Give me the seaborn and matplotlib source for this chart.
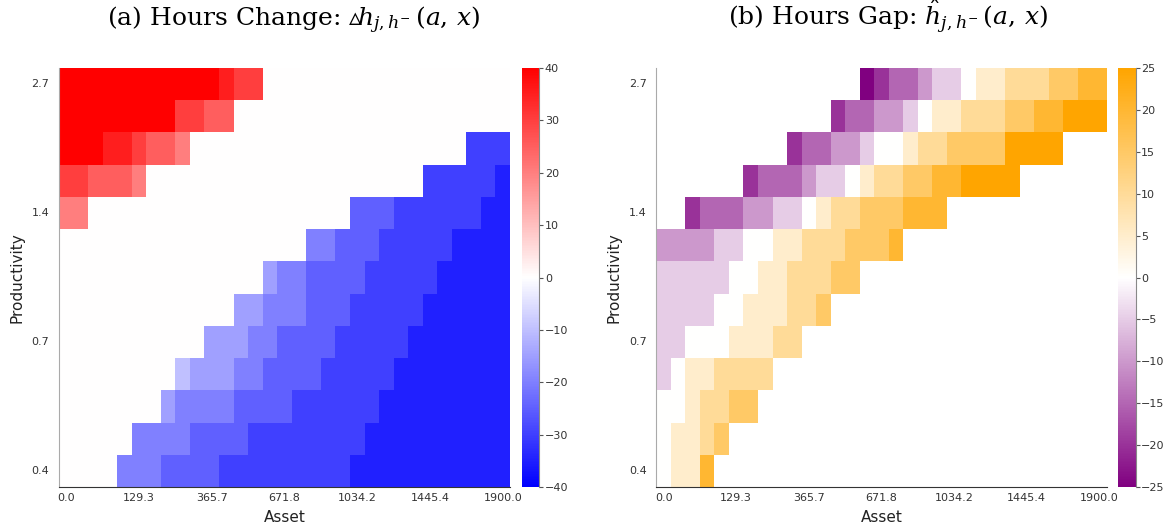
import numpy as np
import pandas as pd
import matplotlib
import matplotlib.pyplot as plt
import seaborn as sns
from matplotlib.colors import LinearSegmentedColormap

n = np.nan

# asset grid labels (every 5th grid point) and productivity labels (every 4th)
asset_ticks = ["0.0", "129.3", "365.7", "671.8", "1034.2", "1445.4", "1900.0"]
prod_ticks = ["2.7", "1.4", "0.7", "0.4"]  # top to bottom

# (a) hours change, rows from top (high productivity) to bottom, 31 asset points
hours_change = [
    [40, 40, 40, 40, 40, 40, 40, 40, 40, 40,  40, 35, 30, 30, 0, 0, 0, 0, 0, 0,  0, 0, 0, 0, 0, 0, 0, 0, 0, 0,  0],
    [40, 40, 40, 40, 40, 40, 40, 40, 30, 30,  25, 25, 0, 0, 0, 0, 0, 0, 0, 0,  0, 0, 0, 0, 0, 0, 0, 0, 0, 0,  0],
    [40, 40, 40, 35, 35, 30, 25, 25, 20, 0,  0, 0, 0, 0, 0, 0, 0, 0, 0, 0,  0, 0, 0, 0, 0, 0, 0, 0, -30, -30,  -30],
    [30, 30, 25, 25, 25, 20, 0, 0, 0, 0,  0, 0, 0, 0, 0, 0, 0, 0, 0, 0,  0, 0, 0, 0, 0, -30, -30, -30, -30, -30,  -35],
    [20, 20, 0, 0, 0, 0, 0, 0, 0, 0,  0, 0, 0, 0, 0, 0, 0, 0, 0, 0,  -25, -25, -25, -30, -30, -30, -30, -30, -30, -35,  -35],
    [0, 0, 0, 0, 0, 0, 0, 0, 0, 0,  0, 0, 0, 0, 0, 0, 0, -20, -20, -25,  -25, -25, -30, -30, -30, -30, -30, -35, -35, -35,  -35],
    [0, 0, 0, 0, 0, 0, 0, 0, 0, 0,  0, 0, 0, 0, -15, -20, -20, -25, -25, -25,  -25, -30, -30, -30, -30, -30, -35, -35, -35, -35,  -35],
    [0, 0, 0, 0, 0, 0, 0, 0, 0, 0,  0, 0, -15, -15, -20, -20, -20, -25, -25, -25,  -30, -30, -30, -30, -30, -35, -35, -35, -35, -35,  -35],
    [0, 0, 0, 0, 0, 0, 0, 0, 0, 0,  -15, -15, -15, -20, -20, -25, -25, -25, -25, -30,  -30, -30, -30, -30, -35, -35, -35, -35, -35, -35,  -35],
    [0, 0, 0, 0, 0, 0, 0, 0, -10, -15,  -15, -15, -20, -20, -25, -25, -25, -25, -30, -30,  -30, -30, -30, -35, -35, -35, -35, -35, -35, -35,  -35],
    [0, 0, 0, 0, 0, 0, 0, -15, -20, -20,  -20, -20, -25, -25, -25, -25, -30, -30, -30, -30,  -30, -30, -35, -35, -35, -35, -35, -35, -35, -35,  -35],
    [0, 0, 0, 0, 0, -20, -20, -20, -20, -25,  -25, -25, -25, -30, -30, -30, -30, -30, -30, -30,  -30, -35, -35, -35, -35, -35, -35, -35, -35, -35,  -35],
    [0, 0, 0, 0, -20, -20, -20, -25, -25, -25,  -25, -30, -30, -30, -30, -30, -30, -30, -30, -30,  -35, -35, -35, -35, -35, -35, -35, -35, -35, -35,  -35],
]

# (b) hours gap, NaN outside the region
hours_gap = [
    [n, n, n, n, n, n, n, n, n, n,  n, n, n, n, -25, -20, -15, -15, -10, -5,  -5, 0, 5, 5, 10, 10, 10, 15, 15, 20,  20],
    [n, n, n, n, n, n, n, n, n, n,  n, n, -20, -15, -15, -10, -10, -5, 0, 5,  5, 10, 10, 10, 15, 15, 20, 20, 25, 25,  25],
    [n, n, n, n, n, n, n, n, n, -20,  -15, -15, -10, -10, -5, 0, 0, 5, 10, 10,  15, 15, 15, 15, 25, 25, 25, 25, n, n,  n],
    [n, n, n, n, n, n, -20, -15, -15, -15,  -10, -5, -5, 0, 5, 10, 10, 15, 15, 20,  20, 25, 25, 25, 25, n, n, n, n, n,  n],
    [n, n, -20, -15, -15, -15, -10, -10, -5, -5,  0, 5, 10, 10, 15, 15, 15, 20, 20, 20,  n, n, n, n, n, n, n, n, n, n,  n],
    [-10, -10, -10, -10, -5, -5, 0, 0, 5, 5,  10, 10, 10, 15, 15, 15, 20, n, n, n,  n, n, n, n, n, n, n, n, n, n,  n],
    [-5, -5, -5, -5, -5, 0, 0, 5, 5, 10,  10, 10, 15, 15, n, n, n, n, n, n,  n, n, n, n, n, n, n, n, n, n,  n],
    [-5, -5, -5, -5, 0, 0, 5, 5, 5, 10,  10, 15, n, n, n, n, n, n, n, n,  n, n, n, n, n, n, n, n, n, n,  n],
    [-5, -5, 0, 0, 0, 5, 5, 5, 10, 10,  n, n, n, n, n, n, n, n, n, n,  n, n, n, n, n, n, n, n, n, n,  n],
    [-5, 0, 5, 5, 10, 10, 10, 10, n, n,  n, n, n, n, n, n, n, n, n, n,  n, n, n, n, n, n, n, n, n, n,  n],
    [0, 0, 5, 10, 10, 15, 15, n, n, n,  n, n, n, n, n, n, n, n, n, n,  n, n, n, n, n, n, n, n, n, n,  n],
    [0, 5, 5, 10, 15, n, n, n, n, n,  n, n, n, n, n, n, n, n, n, n,  n, n, n, n, n, n, n, n, n, n,  n],
    [0, 5, 5, 20, n, n, n, n, n, n,  n, n, n, n, n, n, n, n, n, n,  n, n, n, n, n, n, n, n, n, n,  n],
]

plt.rcParams["mathtext.fontset"] = "dejavuserif"
plt.rcParams["axes.edgecolor"] = "#333333"

n_cols = len(hours_change[0])
n_rows = len(hours_change)
xlabels = [""] * n_cols
xlabels[::5] = asset_ticks
ylabels = [""] * n_rows
ylabels[::4] = prod_ticks

W, H = 1172, 531
fig = plt.figure(figsize=(W / 100, H / 100), dpi=100)


def px(x0, y0, x1, y1):
    return [x0 / W, (H - y1) / H, (x1 - x0) / W, (y1 - y0) / H]


ax1 = fig.add_axes(px(59, 68, 510, 487))
cax1 = fig.add_axes(px(521.7, 68, 539.3, 487))
ax2 = fig.add_axes(px(656.3, 68, 1106.7, 487))
cax2 = fig.add_axes(px(1118.3, 68, 1135.7, 487))

gap_cmap = LinearSegmentedColormap.from_list("pwo", ["purple", "white", "orange"])

sns.heatmap(pd.DataFrame(hours_change), ax=ax1, cbar_ax=cax1, cmap="bwr",
            vmin=-40, vmax=40, xticklabels=xlabels, yticklabels=ylabels,
            cbar_kws={"ticks": np.arange(-40, 41, 10)})
sns.heatmap(pd.DataFrame(hours_gap), ax=ax2, cbar_ax=cax2, cmap=gap_cmap,
            vmin=-25, vmax=25, xticklabels=xlabels, yticklabels=ylabels,
            cbar_kws={"ticks": np.arange(-25, 26, 5)})

for ax in [ax1, ax2]:
    ax.spines["left"].set_visible(True)
    ax.spines["bottom"].set_visible(True)
    ax.spines["left"].set_color("#aaaaaa")
    ax.spines["bottom"].set_color("#333333")
    ax.tick_params(axis="both", length=0, labelsize=8, labelcolor="#333333")
    ax.tick_params(axis="x", pad=4, labelrotation=0)
    ax.tick_params(axis="y", pad=7, labelrotation=0)
    ax.set_xlabel("Asset", fontsize=11, labelpad=5, color="#222222")
    ax.set_ylabel("Productivity", fontsize=11, labelpad=5, color="#222222")

for cax in [cax1, cax2]:
    cax.tick_params(length=3, width=0.8, color="#555555", labelsize=8,
                    labelcolor="#333333", pad=1)
    cax.spines["right"].set_visible(True)
    cax.spines["right"].set_color("#888888")

title_kw = dict(ha="center", va="baseline", fontsize=18, family="DejaVu Serif")
fig.text(294 / W, (H - 26) / H, r"(a) Hours Change: $\vartriangle\!h_{j,h^{-}}\,(a,\,x)$", **title_kw)
fig.text(888 / W, (H - 26) / H, r"(b) Hours Gap: $\hat{h}_{j,h^{-}}\,(a,\,x)$", **title_kw)

fig.savefig("out.png", dpi=100)
